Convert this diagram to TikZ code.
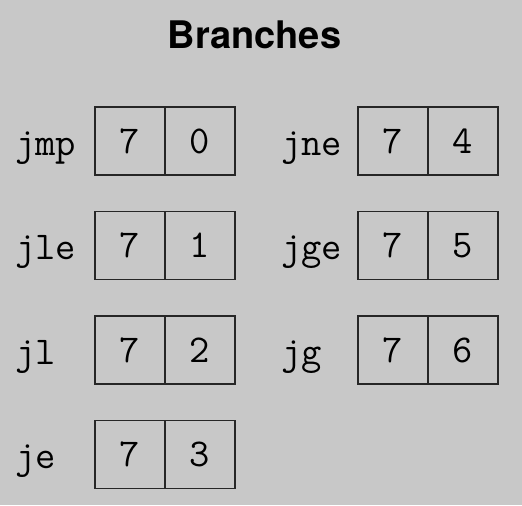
\documentclass[tikz,border=0pt]{standalone}
\usepackage{fontspec}
\newfontfamily\headfont{TeX Gyre Heros}
\usetikzlibrary{positioning}
\definecolor{panelgray}{HTML}{C8C8C8}

\begin{document}
\begin{tikzpicture}[
    x=0.5pt, y=-0.5pt,
    cell/.style={draw=black!85, line width=0.6pt, minimum width=35pt, minimum height=34pt,
      inner sep=0pt, outer sep=0pt, font=\ttfamily\fontsize{19.7}{24}\selectfont},
    opname/.style={anchor=base west, inner sep=0pt, font=\ttfamily\fontsize{19.7}{24}\selectfont},
    heading/.style={anchor=base, inner sep=0pt, font=\headfont\bfseries\fontsize{19}{23}\selectfont}
]
\path[fill=panelgray] (0,0) rectangle (522,505);
\node[heading] (title) at (254.5,48) {Branches};
% opcode table: name, then the two nibbles
\foreach \op/\code/\col/\row in {jmp/0/0/0, jle/1/0/1, jl/2/0/2, je/3/0/3, jne/4/1/0, jge/5/1/1, jg/6/1/2} {
  \pgfmathsetmacro{\cx}{130+263*\col}
  \pgfmathsetmacro{\cy}{141+104.5*\row}
  \node[opname] (\op) at ({15+266*\col},{\cy+14}) {\op};
  \node[cell] (\op-hi) at (\cx,\cy) {7};
  \node[cell, right=0pt of \op-hi] (\op-lo) {\code};
}
\end{tikzpicture}
\end{document}
